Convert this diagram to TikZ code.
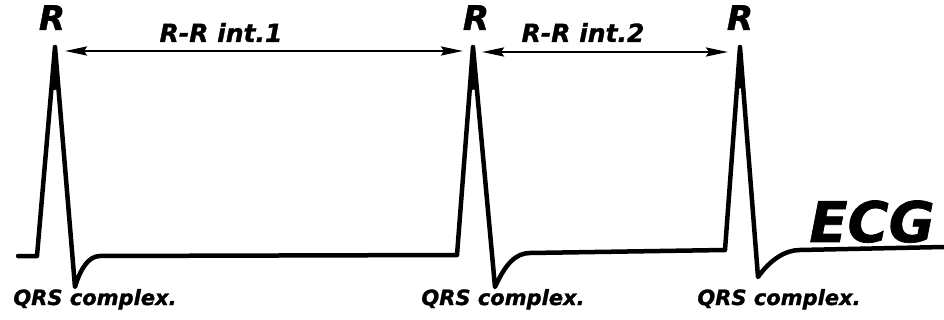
\documentclass[tikz,border=0pt]{standalone}
\usepackage{fontspec}
\setmainfont{DejaVu Sans}
\newfontfamily\heavyfont{DejaVu Sans Bold Oblique}[FakeBold=1.2]
\usetikzlibrary{arrows.meta,calc}

\begin{document}
\begin{tikzpicture}[x=1pt, y=-1pt,
    trace/.style={line width=4.5pt, line join=round, line cap=round},
    interval/.style={line width=2.4pt, {Stealth[length=22pt,width=9pt,inset=3pt]}-{Stealth[length=22pt,width=9pt,inset=3pt]}},
    lbl/.style={inner sep=0pt, anchor=base}]
    \useasboundingbox (0,0) rectangle (944,320);
    % R peaks, foot of the rise and bottom of S
    \coordinate (R1) at (55,47);
    \coordinate (R2) at (473,47);
    \coordinate (R3) at (740,47);
    \coordinate (b1) at (37,256);
    \coordinate (b2) at (457,255);
    \coordinate (b3) at (725,250);
    \coordinate (s1) at (75,287);
    \coordinate (s2) at (495,287);
    \coordinate (s3) at (758,277);
    % trace
    \draw[trace] (18,256) -- (b1) -- (R1) -- (s1)
        .. controls (80,270) and (88,256) .. (100,256) -- (b2) -- (R2) -- (s2)
        .. controls (505,265) and (515,253) .. (530,253) -- (b3) -- (R3) -- (s3)
        .. controls (770,260) and (785,250) .. (800,250) -- (944,247);
    % thick tip of each spike
    \foreach \n in {1,2,3} {
        \fill[line join=round, draw, line width=3pt] (R\n) -- ($(R\n)!0.2!(b\n)$) -- ($(R\n)!0.17!(s\n)$) -- cycle;
        }
    % interval ends
    \coordinate (i1a) at (65,51);
    \coordinate (i1b) at (463,51);
    \coordinate (i2a) at (482,52);
    \coordinate (i2b) at (728,52);
    \draw[interval] (i1a) -- (i1b);
    \draw[interval] (i2a) -- (i2b);
    \foreach \n/\x in {1/52, 2/476, 3/740} {
        \node[lbl, font=\fontsize{34}{40}\heavyfont] (r\n) at (\x,30) {R};
        }
    \node[lbl, font=\fontsize{25}{30}\heavyfont] (rr1) at (221,42) {R-R int.1};
    \node[lbl, font=\fontsize{25}{30}\heavyfont] (rr2) at (583,42) {R-R int.2};
    \foreach \n/\x in {1/95, 2/503, 3/779} {
        \node[lbl, font=\fontsize{21}{25}\heavyfont] (qrs\n) at (\x,305) {QRS complex.};
        }
    \node[lbl, font=\fontsize{56}{60}\heavyfont] (ecg) at (872,242) {ECG};
\end{tikzpicture}
\end{document}
